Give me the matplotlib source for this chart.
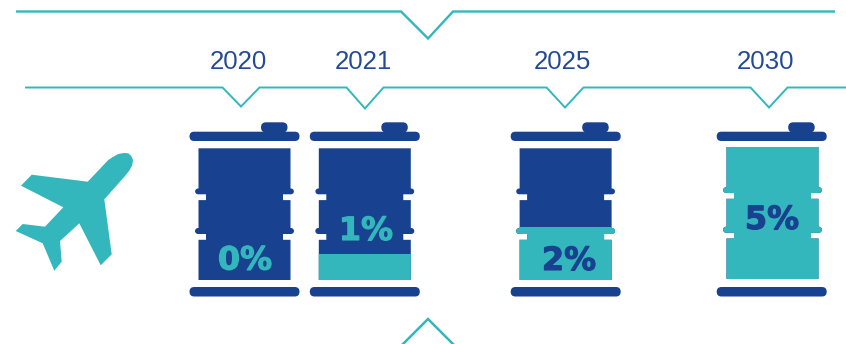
import numpy as np
import matplotlib
matplotlib.use("Agg")
import matplotlib.pyplot as plt
import matplotlib.patheffects as pe
from matplotlib.patches import FancyBboxPatch, PathPatch, Polygon, Rectangle
from matplotlib.path import Path

# Sustainable fuel share per year
years = ["2020", "2021", "2025", "2030"]
shares = [0, 1, 2, 5]
full_scale = 5

# Layout of the infographic, in pixels
barrel_x = [244.5, 364.8, 565.7, 771.7]
body_x = [244.5, 364.8, 565.6, 772.5]
year_x = [238.5, 363.5, 562, 765.5]
share_x = [245, 366, 569, 772]
share_base = [269.5, 240, 270, 229]
notch_x = [241, 365, 565, 769]
notch_depth = [19, 21, 20, 20]

NAVY = "#18428f"
TEAL = "#33b7bc"
YEAR_BLUE = "#244a97"

fig = plt.figure(figsize=(8.46, 3.44), dpi=100)
ax = fig.add_axes([0, 0, 1, 1])
ax.set_xlim(0, 846)
ax.set_ylim(344, 0)
ax.axis("off")


def pill(x0, x1, y0, y1, color):
    h = y1 - y0
    ax.add_patch(FancyBboxPatch((x0 + h / 2, y0 + h / 2), x1 - x0 - h, 0,
                                boxstyle=f"round,pad={h / 2},rounding_size={h / 2}",
                                fc=color, ec="none", zorder=3))


def barrel_outline(cx, top, bottom):
    """Staved drum body with two round-ended hoops and a groove under each hoop."""
    hw, inset = 46, 38.5
    hoops = [(40.2, 46.0), (79.7, 85.7)]
    groove = 5.8
    left, right = [], []
    for h0, h1 in hoops:
        r = (h1 - h0) / 2
        mid = top + (h0 + h1) / 2
        angles = np.linspace(-np.pi / 2, np.pi / 2, 11)
        for sign, side in ((-1, left), (1, right)):
            side.append((cx + sign * hw, top + h0))
            side += [(cx + sign * (hw + 0.5 + r * np.cos(a)), mid + r * np.sin(a)) for a in angles]
            side += [(cx + sign * inset, top + h1), (cx + sign * inset, top + h1 + groove),
                     (cx + sign * hw, top + h1 + groove)]
    pts = [(cx - hw, top)] + left + [(cx - hw, bottom), (cx + hw, bottom)] + right[::-1] + [(cx + hw, top)]
    return Path(pts + [pts[0]], closed=True)


for i, (year, share) in enumerate(zip(years, shares)):
    cx = barrel_x[i]
    top = 147.0 if share == full_scale else 148.3
    bottom = 279.0 if share == full_scale else 280.0

    # Lid, filler cap and base
    pill(cx - 55, cx + 55, 131.7, 141, NAVY)
    pill(cx + 16.5, cx + 43, 122.3, 132.5, NAVY)
    pill(cx - 55, cx + 55, 287, 296.5, NAVY)

    # Drum body, then the filled share clipped to the drum shape
    outline = barrel_outline(body_x[i], top, bottom)
    ax.add_patch(PathPatch(outline, fc=NAVY, ec="none", zorder=2))
    fill_h = (bottom - top) * share / full_scale
    if fill_h > 0:
        fill = Rectangle((cx - 55, bottom - fill_h), 110, fill_h, fc=TEAL, ec="none", zorder=2.5)
        ax.add_patch(fill)
        fill.set_clip_path(PathPatch(outline, transform=ax.transData))

    label_color = NAVY if share >= 2 else TEAL
    ax.text(share_x[i], share_base[i], f"{share}%", family="DejaVu Sans", weight="bold",
            fontsize=23, color=label_color, ha="center", va="baseline", zorder=4,
            path_effects=[pe.withStroke(linewidth=0.8, foreground=label_color)])
    ax.text(year_x[i], 69, year, family="Liberation Sans", fontsize=18.6,
            color=YEAR_BLUE, ha="center", va="baseline", zorder=4)

# Bracket across the top with its central pointer
ax.plot([16, 401, 428, 453, 835], [11.5, 11.5, 38.5, 11.5, 11.5], color=TEAL, lw=1.7,
        solid_joinstyle="miter", solid_capstyle="butt")

# Year rail with one pointer per barrel
rail_x, rail_y = [25], [87.5]
for nx, d in zip(notch_x, notch_depth):
    rail_x += [nx - 18.5, nx, nx + 18.5]
    rail_y += [87.5, 87.5 + d, 87.5]
rail_x.append(846)
rail_y.append(87.5)
ax.plot(rail_x, rail_y, color=TEAL, lw=1.4, solid_joinstyle="miter", solid_capstyle="butt")

# Pointer rising from the lower edge
ax.plot([402, 428, 454], [345, 319, 345], color=TEAL, lw=1.8, solid_joinstyle="miter")

# Aircraft icon
plane = [(108.3, 160), (113.3, 156.7), (118.3, 154), (124, 153), (128.3, 153.3),
         (131.3, 156), (133, 160), (132.3, 165), (129.3, 170.7), (125, 176),
         (104.3, 199.3), (111.7, 254.3),
         (100.7, 265.3), (79.3, 223.3), (60, 241), (61.7, 261.7), (54.3, 270.7),
         (42.7, 243.3), (15.7, 231), (22.7, 224), (45, 226.7), (63.3, 207.3),
         (21, 185.7), (31.7, 174.7), (87.7, 181.7)]
ax.add_patch(Polygon(plane, closed=True, fc=TEAL, ec="none"))

fig.savefig("out.png", dpi=100)
